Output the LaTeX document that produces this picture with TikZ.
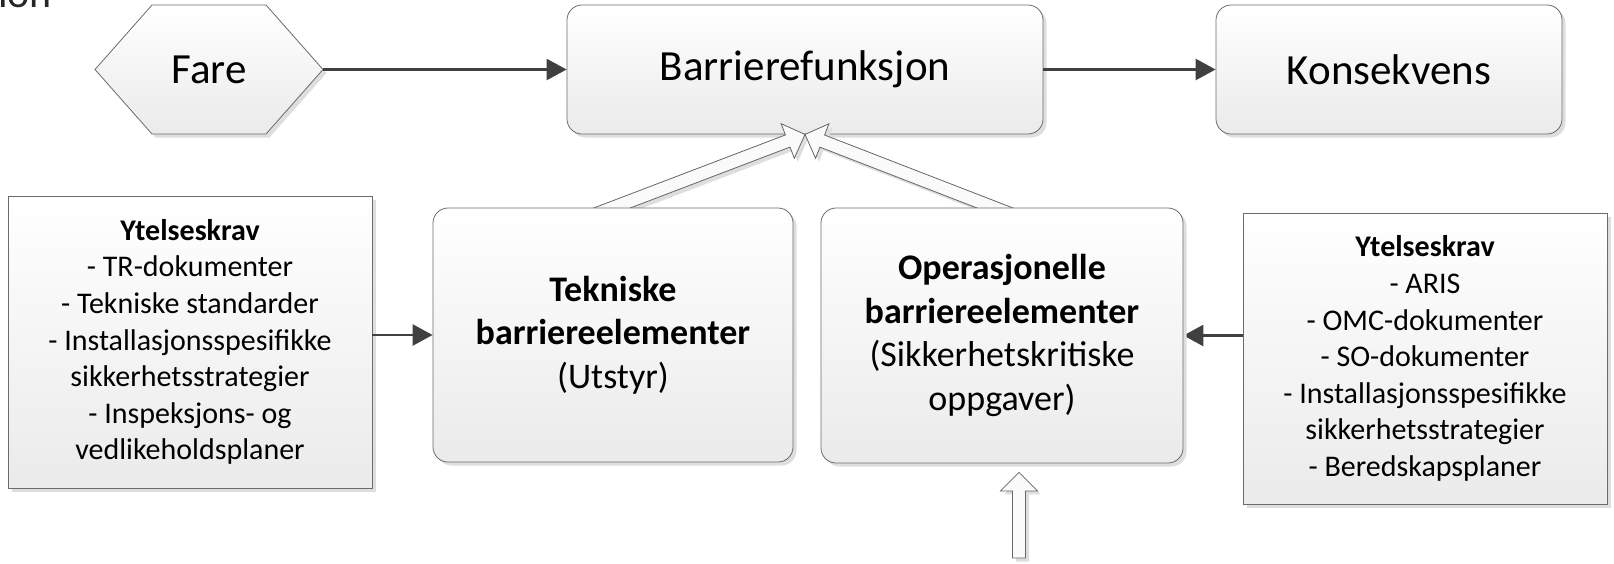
\documentclass[tikz,border=0pt]{standalone}
\usepackage{fontspec}
\setmainfont{Carlito}
\usetikzlibrary{arrows.meta,calc,shadows}
\pgfdeclarelayer{foreground}
\pgfsetlayers{main,foreground}

\tikzset{
  every node/.style={inner sep=0pt, align=center},
  softshadow/.style={drop shadow={shadow xshift=3.5pt, shadow yshift=-3.5pt, fill=black!13, opacity=1}},
  panel/.style={draw=black!58, line width=0.8pt, top color=white, bottom color=black!8, softshadow},
  roundpanel/.style={panel, rounded corners=15pt},
  bigtext/.style={font=\fontsize{43}{52}\selectfont},
  midtext/.style={font=\fontsize{36}{43.7}\selectfont},
  smalltext/.style={font=\fontsize{30}{36.6}\selectfont},
  flow/.style={draw=black!75, line width=2.6pt, -{Triangle[length=20pt,width=21pt]}},
  hollow/.style={draw=black!60, line width=0.8pt, fill=black!2, line join=miter, softshadow}
}

% outlined block arrow from #1 (tail) to #2 (tip)
\newcommand{\hollowarrow}[2]{%
  \coordinate (neck) at ($(#2)!18.5pt!(#1)$);
  \path[hollow] ($(#1)!6.5pt!90:(#2)$) -- ($(neck)!6.5pt!90:(#2)$)
    -- ($(neck)!18.5pt!90:(#2)$) -- (#2) -- ($(neck)!18.5pt!-90:(#2)$)
    -- ($(neck)!6.5pt!-90:(#2)$) -- ($(#1)!6.5pt!-90:(#2)$) -- cycle;
}

\begin{document}
\begin{tikzpicture}[x=1pt, y=-1pt]
\useasboundingbox (0,0) rectangle (1614,563);

% heading cut by the upper edge
\node[anchor=base west, font=\fontsize{42}{50}\selectfont, text=black!85] (frag) at (-2,7.5) {ion};

% hazard hexagon
\coordinate (farec) at (209,69.5);
\path[panel] ($(farec)+(-114,0)$) -- ($(farec)+(-57,-64.5)$) -- ($(farec)+(57,-64.5)$)
  -- ($(farec)+(114,0)$) -- ($(farec)+(57,64.5)$) -- ($(farec)+(-57,64.5)$) -- cycle;
\node[bigtext, minimum width=228pt, minimum height=129pt] (fare) at (farec) {Fare};

% top row
\node[roundpanel, bigtext, minimum width=476pt, minimum height=129pt] (barr) at (805,69.5) {Barrierefunksjon};
\node[roundpanel, bigtext, minimum width=346pt, minimum height=129pt] (kons) at (1389,69.5) {Konsekvens};

% requirement boxes
\node[panel, smalltext, minimum width=364pt, minimum height=292pt] (lreq) at (190,342)
  {\textbf{Ytelseskrav}\\- TR-dokumenter\\- Tekniske standarder\\- Installasjonsspesifikke\\sikkerhetsstrategier\\- Inspeksjons- og\\vedlikeholdsplaner};
\node[panel, smalltext, minimum width=364pt, minimum height=291pt] (rreq) at (1425,358.5)
  {\textbf{Ytelseskrav}\\- ARIS\\- OMC-dokumenter\\- SO-dokumenter\\- Installasjonsspesifikke\\sikkerhetsstrategier\\- Beredskapsplaner};

% barrier elements, kept above the tails of the block arrows
\begin{pgfonlayer}{foreground}
\node[roundpanel, midtext, minimum width=360pt, minimum height=254pt] (tek) at (613,335)
  {\textbf{Tekniske}\\\textbf{barriereelementer}\\(Utstyr)};
\node[roundpanel, midtext, minimum width=362pt, minimum height=255pt] (ops) at (1002,335.5)
  {\textbf{Operasjonelle}\\\textbf{barriereelementer}\\(Sikkerhetskritiske\\oppgaver)};
\end{pgfonlayer}

% flow connectors
\draw[flow] (fare.east) -- (barr.west);
\draw[flow] (barr.east) -- (kons.west);
\draw[flow] (lreq.east |- tek.west) -- (tek.west);
\draw[flow] (rreq.west |- ops.east) -- (ops.east);

% block arrows into the barrier function and up from below
\coordinate (opsTop) at ($(ops.north)+(-8,0)$);
\coordinate (tekTail) at ($(barr.south)!1.15!(tek.north)$);
\coordinate (opsTail) at ($(barr.south)!1.15!(opsTop)$);
\coordinate (opsIn) at ($(ops.south)+(17,9)$);
\coordinate (opsFeed) at (1019,558);
\hollowarrow{tekTail}{barr.south}
\hollowarrow{opsTail}{barr.south}
\hollowarrow{opsFeed}{opsIn}
\end{tikzpicture}
\end{document}
